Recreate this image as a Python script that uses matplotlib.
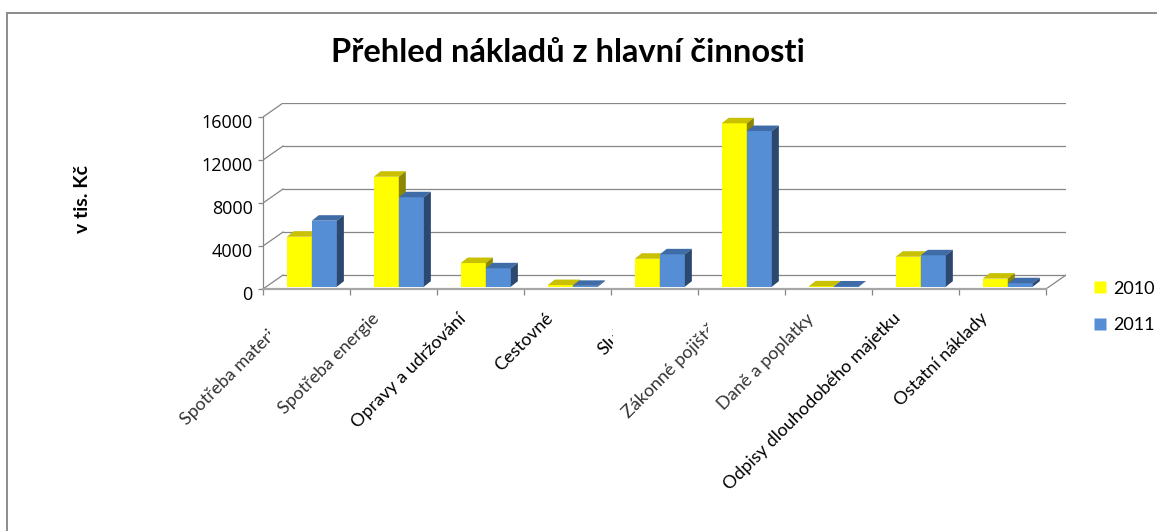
import matplotlib
matplotlib.use("Agg")
import matplotlib.pyplot as plt
from matplotlib.patches import Polygon, Rectangle
from matplotlib.lines import Line2D
from matplotlib.transforms import Bbox, TransformedBbox, ScaledTranslation

plt.rcParams['font.family'] = ['Lato', 'DejaVu Sans']

### data (v tis. Kč)
categories = ["Spotřeba materiálu", "Spotřeba energie", "Opravy a udržování",
              "Cestovné", "Služby", "Zákonné pojištění", "Daně a poplatky",
              "Odpisy dlouhodobého majetku", "Ostatní náklady"]
years = ["2010", "2011"]
v2010 = [4650, 10230, 2200, 150, 2600, 15200, 30, 2790, 750]
v2011 = [6140, 8320, 1710, 80, 3010, 14480, 20, 2920, 320]
yticks = [0, 4000, 8000, 12000, 16000]

### look
W, H = 1157, 531
front_cols = ['#FFFF00', '#558ED5']
top_cols = ['#C8C000', '#3F6CA6']
side_cols = ['#8C8600', '#2C486E']
grid_col = '#868686'

PX_X = 86.8          # px per category
PX_Y = 0.01075       # px per value unit
DX, DY = 20 / PX_X, 14 / PX_Y            # wall depth
BDX, BDY = 7 / PX_X, 5.5 / PX_Y          # bar depth
B0 = 2.3 / PX_Y                          # bar base above floor edge
OFF, BW = 23.7 / PX_X, 25 / PX_X

fig = plt.figure(figsize=(W / 100, H / 100), dpi=100)
fig.patches.append(Rectangle((7 / W, -0.1), 1.2, (531 - 12.5) / H + 0.1,
                             transform=fig.transFigure, fill=False,
                             ec='#8C8C8C', lw=1.4))

ax = fig.add_axes([263 / W, (H - 289) / H, (1066 - 263) / W, 186 / H])
n = len(categories)
ax.set_xlim(-0.5, n - 0.5 + DX)
ax.set_ylim(0, yticks[-1] + DY)
ax.patch.set_visible(False)

# back wall gridlines + left wall diagonals
for v in yticks:
    ax.plot([-0.5 + DX, n - 0.5 + DX], [v + DY, v + DY], color=grid_col, lw=0.9, zorder=1)
    ax.plot([-0.5, -0.5 + DX], [v, v + DY], color=grid_col, lw=0.9, zorder=1)
# floor right edge
ax.plot([n - 0.5, n - 0.5 + DX], [0, DY], color=grid_col, lw=0.9, zorder=1)

# bars
for j, vals in enumerate([v2010, v2011]):
    xs = [i - 0.5 + OFF + j * BW for i in range(n)]
    ax.bar(xs, vals, width=BW, bottom=B0, align='edge', color=front_cols[j],
           lw=0, zorder=3 + j * 0.1)
    for x, v in zip(xs, vals):
        yt = B0 + v
        top = Polygon([(x, yt), (x + BW, yt), (x + BW + BDX, yt + BDY), (x + BDX, yt + BDY)],
                      closed=True, fc=top_cols[j], lw=0, zorder=3 + j * 0.1)
        side = Polygon([(x + BW, B0), (x + BW + BDX, B0 + BDY), (x + BW + BDX, yt + BDY), (x + BW, yt)],
                       closed=True, fc=side_cols[j], lw=0, zorder=3 + j * 0.1)
        ax.add_patch(top)
        ax.add_patch(side)

# axes
for s in ['top', 'right']:
    ax.spines[s].set_visible(False)
ax.spines['left'].set_bounds(0, yticks[-1])
ax.spines['left'].set_color(grid_col)
ax.spines['left'].set_linewidth(0.9)
ax.spines['bottom'].set_bounds(-0.5, n - 0.5)
ax.spines['bottom'].set_color('#A6A6A6')
ax.spines['bottom'].set_linewidth(1.6)
ax.set_yticks(yticks)
ax.set_yticklabels([str(v) for v in yticks], fontsize=13, family=['Open Sans', 'DejaVu Sans'])
ax.set_xticks([i - 0.5 for i in range(n + 1)])
ax.set_xticklabels([])
ax.tick_params(axis='y', direction='out', length=3.5, width=0.9, color=grid_col, pad=4)
ax.tick_params(axis='x', direction='out', length=4, width=0.9, color=grid_col)
shift = ScaledTranslation(0, -0.04, fig.dpi_scale_trans)
for lab in ax.get_yticklabels():
    lab.set_transform(lab.get_transform() + shift)

# category labels (some are cut in the original)
clip_at = {0: 270, 4: 613, 5: 708}
grey_labels = {0, 1, 5, 6}
for i, name in enumerate(categories):
    tr = ax.transData + ScaledTranslation(-0.17, -0.27, fig.dpi_scale_trans)
    t = ax.text(i, 0, name, transform=tr, rotation=45, rotation_mode='anchor',
                ha='right', va='center', fontsize=13,
                color='#333333' if i in grey_labels else 'black')
    if i in clip_at:
        t.set_clip_box(TransformedBbox(Bbox([[0, 0], [clip_at[i] / W, 1]]), fig.transFigure))
        t.set_clip_on(True)
    else:
        t.set_clip_on(False)

# title, y label
fig.text(567.5 / W, (H - 61.7) / H, "Přehled nákladů z hlavní činnosti",
         ha='center', va='baseline', fontsize=23.5, fontweight='bold')
fig.text(83 / W, (H - 199) / H, "v tis. Kč", rotation=90, ha='center', va='center',
         fontsize=14, fontweight='bold')

# legend
handles = [Line2D([], [], marker='s', ls='none', ms=8.5, mec='none', mfc=c) for c in front_cols]
fig.legend(handles, years, loc='center left', bbox_to_anchor=(1093 / W, (H - 307) / H),
           frameon=False, fontsize=13, handlelength=0.8, handletextpad=0.3,
           borderpad=0, borderaxespad=0, labelspacing=1.15)

fig.savefig('out.png', dpi=100)
